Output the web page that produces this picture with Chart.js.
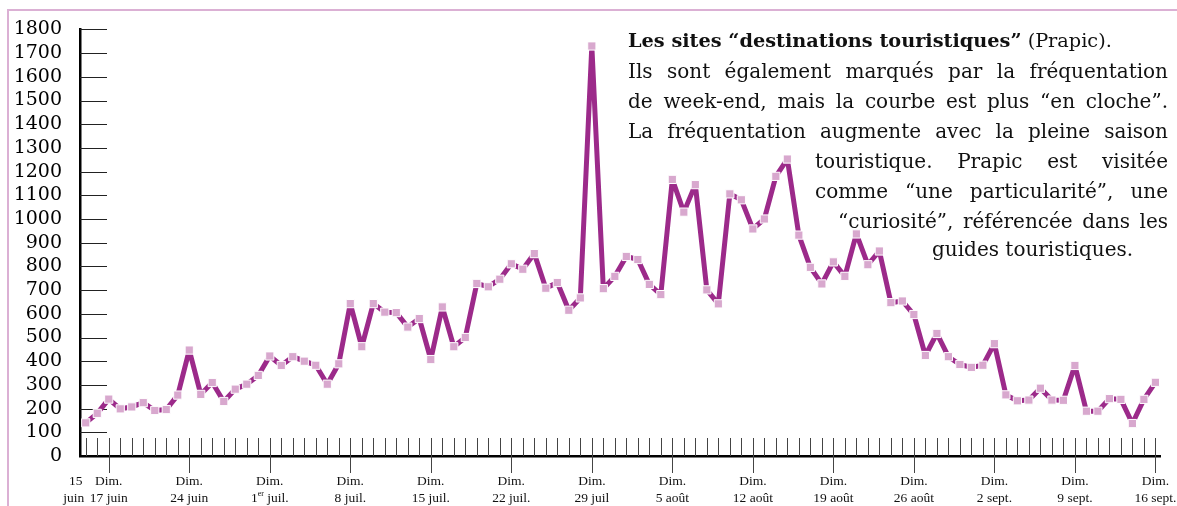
<html lang="fr">
<head>
<meta charset="UTF-8">
<script src="https://cdn.jsdelivr.net/npm/chart.js@4.4.0/dist/chart.umd.min.js"></script>
<title>Fréquentation Prapic</title>
<style>
  body { margin: 0; background: #fff; }
  #wrap { position: relative; width: 1177px; height: 506px; overflow: hidden; }
  #frame { position: absolute; left: 7px; top: 9px; width: 1200px; height: 520px;
           border-top: 2px solid #dbb0d4; border-left: 2px solid #dbb0d4; }
  #chart { position: absolute; left: 0; top: 0; }
  .txt { position: absolute; font-family: "DejaVu Serif", serif; font-size: 20px;
         line-height: 30px; color: #111; white-space: nowrap; }
  .j { text-align: justify; text-align-last: justify; white-space: normal; }
</style>
</head>
<body>
<div id="wrap">
  <div id="frame"></div>
  <canvas id="chart" width="1177" height="506"></canvas>
  <div class="txt" style="left:628px; top:26px; font-size:19.3px;"><b>Les sites “destinations touristiques”</b> (Prapic).</div>
  <div class="txt j" style="left:628px; top:56px; width:540px;">Ils sont également marqués par la fréquentation</div>
  <div class="txt j" style="left:628px; top:86px; width:540px;">de week-end, mais la courbe est plus “en cloche”.</div>
  <div class="txt j" style="left:628px; top:116px; width:540px;">La fréquentation augmente avec la pleine saison</div>
  <div class="txt j" style="left:815px; top:146px; width:353px;">touristique. Prapic est visitée</div>
  <div class="txt j" style="left:815px; top:176px; width:353px;">comme “une particularité”, une</div>
  <div class="txt j" style="left:838px; top:206px; width:330px;">“curiosité”, référencée dans les</div>
  <div class="txt" style="left:932px; top:234px;">guides touristiques.</div>
</div>

<script>
// visiteurs par jour, du 15 juin au 16 septembre
const visits = [
  140, 180, 240, 199, 207, 225, 192, 196, 257, 447,
  260, 310, 230, 282, 303, 340, 422, 382, 419, 400,
  383, 303, 389, 643, 461, 643, 607, 605, 544, 580,
  407, 629, 461, 500, 728, 714, 746, 811, 788, 854,
  708, 732, 615, 667, 1730, 706, 758, 842, 829, 724,
  681, 1167, 1029, 1145, 701, 642, 1106, 1081, 958, 1000,
  1180, 1253, 932, 796, 726, 819, 758, 937, 807, 865,
  647, 654, 597, 424, 517, 419, 386, 374, 383, 474,
  258, 233, 236, 286, 236, 235, 382, 189, 189, 242,
  239, 137, 239, 311
];
// dimanches (index du jour) et leurs étiquettes
const sundays = [2, 9, 16, 23, 30, 37, 44, 51, 58, 65, 72, 79, 86, 93];
const sundayLabels = ['17 juin', '24 juin', '1er juil.', '8 juil.', '15 juil.', '22 juil.', '29 juil',
  '5 août', '12 août', '19 août', '26 août', '2 sept.', '9 sept.', '16 sept.'];
const firstLabel = ['15', 'juin'];

const points = visits.map((v, i) => ({ x: i, y: v }));

const axisMarks = {
  id: 'axisMarks',
  beforeDatasetsDraw(chart) {
    const ctx = chart.ctx;
    const xs = chart.scales.x, ys = chart.scales.y;
    const a = chart.chartArea;
    ctx.save();
    // petits traits horizontaux de l'axe vertical
    ctx.strokeStyle = '#222';
    ctx.lineWidth = 1;
    for (let v = 100; v <= 1800; v += 100) {
      const y = Math.round(ys.getPixelForValue(v)) + 0.5;
      ctx.beginPath(); ctx.moveTo(a.left, y); ctx.lineTo(a.left + 27, y); ctx.stroke();
    }
    // un trait par jour, plus long le dimanche
    ctx.strokeStyle = '#444';
    for (let i = 0; i < visits.length; i++) {
      const x = Math.round(xs.getPixelForValue(i)) + 0.5;
      const down = sundays.includes(i) ? 17 : 0;
      ctx.beginPath(); ctx.moveTo(x, a.bottom - 18); ctx.lineTo(x, a.bottom + down); ctx.stroke();
    }
    ctx.restore();
  },
  afterDraw(chart) {
    const ctx = chart.ctx;
    const xs = chart.scales.x;
    const a = chart.chartArea;
    ctx.save();
    ctx.fillStyle = '#111';
    ctx.textAlign = 'center';
    ctx.textBaseline = 'middle';
    ctx.font = '13.5px "Liberation Serif"';
    const y1 = a.bottom + 25, y2 = a.bottom + 42;
    const fx = xs.getPixelForValue(0) - 10;
    ctx.fillText(firstLabel[0], fx, y1);
    ctx.fillText(firstLabel[1], fx - 2, y2);
    sundays.forEach((d, k) => {
      const x = xs.getPixelForValue(d);
      ctx.fillText('Dim.', x, y1);
      const lab = sundayLabels[k];
      const m = lab.match(/^(\d+)er (.*)$/);
      if (m) {
        const w1 = ctx.measureText(m[1]).width;
        ctx.font = '8px "Liberation Serif"';
        const w2 = ctx.measureText('er').width;
        ctx.font = '13.5px "Liberation Serif"';
        const w3 = ctx.measureText(' ' + m[2]).width;
        let sx = x - (w1 + w2 + w3) / 2;
        ctx.textAlign = 'left';
        ctx.fillText(m[1], sx, y2);
        ctx.font = '8px "Liberation Serif"';
        ctx.fillText('er', sx + w1, y2 - 4);
        ctx.font = '13.5px "Liberation Serif"';
        ctx.fillText(' ' + m[2], sx + w1 + w2, y2);
        ctx.textAlign = 'center';
      } else {
        ctx.fillText(lab, x, y2);
      }
    });
    ctx.restore();
  }
};

new Chart(document.getElementById('chart'), {
  type: 'line',
  data: {
    datasets: [{
      data: points,
      borderColor: '#9c2a8a',
      borderWidth: 5,
      borderJoinStyle: 'round',
      tension: 0,
      pointStyle: 'rect',
      pointRadius: 5.8,
      pointBackgroundColor: '#d8a8ce',
      pointBorderColor: '#ffffff',
      pointBorderWidth: 1
    }]
  },
  options: {
    responsive: false,
    animation: false,
    layout: { padding: { left: 0, top: 24, right: 17, bottom: 0 } },
    plugins: { legend: { display: false }, tooltip: { enabled: false } },
    scales: {
      x: {
        type: 'linear',
        min: -0.5,
        max: 93.4,
        grid: { display: false, drawTicks: false },
        border: { display: true, color: '#000', width: 2.5 },
        ticks: { display: false },
        afterFit: (s) => { s.height = 50; }
      },
      y: {
        min: 0,
        max: 1800,
        grid: { display: false, drawTicks: false },
        border: { display: true, color: '#000', width: 2.5 },
        ticks: {
          stepSize: 100,
          autoSkip: false,
          padding: 18,
          color: '#000',
          font: { family: 'DejaVu Serif', size: 19 },
          callback: (v) => String(v)
        },
        afterFit: (s) => { s.width = 80; }
      }
    }
  },
  plugins: [axisMarks]
});
</script>
</body>
</html>
